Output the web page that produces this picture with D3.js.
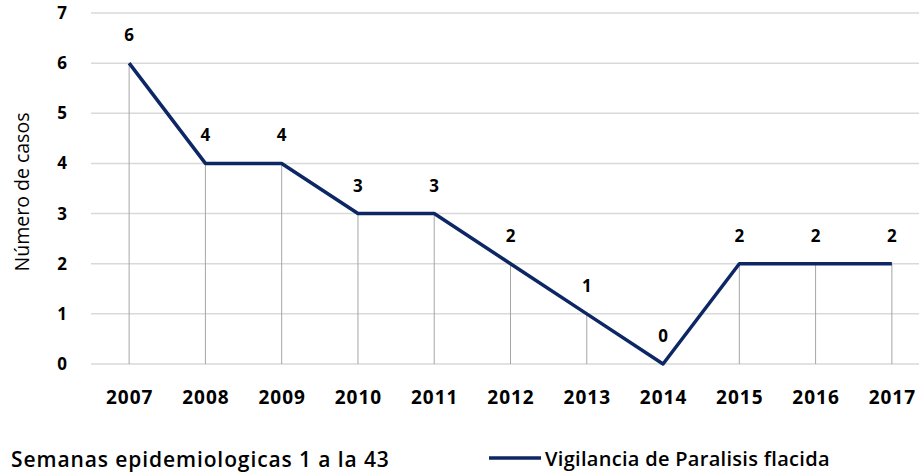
<!DOCTYPE html>
<html>
<head>
<meta charset="utf-8">
<script src="https://cdn.jsdelivr.net/npm/d3@7"></script>
<style>
  body { margin: 0; background: #fff; }
  text { font-family: "Open Sans", sans-serif; fill: #000; }
</style>
</head>
<body>
<div id="chart"></div>
<script>
// data
var years = ["2007", "2008", "2009", "2010", "2011", "2012", "2013", "2014", "2015", "2016", "2017"];
var casos = [6, 4, 4, 3, 3, 2, 1, 0, 2, 2, 2];
var yTicks = [0, 1, 2, 3, 4, 5, 6, 7];
var seriesName = "Vigilancia de Paralisis flacida";
var footNote = "Semanas epidemiologicas 1 a la 43";

var width = 919, height = 473;
var plot = {left: 91, right: 930, top: 13, bottom: 364};

var svg = d3.select("#chart")
    .append("svg")
    .attr("width", width)
    .attr("height", height);

var x = d3.scalePoint()
    .domain(years)
    .range([plot.left, plot.right])
    .padding(0.5);

var y = d3.scaleLinear()
    .domain([0, 7])
    .range([plot.bottom, plot.top]);

// horizontal gridlines
svg.append("g")
    .selectAll("line")
    .data(yTicks)
    .enter()
    .append("line")
    .attr("x1", plot.left)
    .attr("x2", width)
    .attr("y1", d => y(d))
    .attr("y2", d => y(d))
    .attr("stroke", "#d9d9d9")
    .attr("stroke-width", 1.5);

// y axis labels
var yAxis = svg.append("g")
    .attr("transform", "translate(" + plot.left + ",0)")
    .call(d3.axisLeft(y).tickValues(yTicks).tickFormat(d3.format("d")).tickSize(0).tickPadding(24));
yAxis.select(".domain").remove();
yAxis.selectAll("text")
    .style("font-size", "17px")
    .style("font-weight", "bold");

// x axis labels
var xAxis = svg.append("g")
    .attr("transform", "translate(0," + plot.bottom + ")")
    .call(d3.axisBottom(x).tickSize(0).tickPadding(27));
xAxis.select(".domain").remove();
xAxis.selectAll("text")
    .style("font-size", "19px")
    .style("font-weight", "bold")
    .style("letter-spacing", "1px");

var points = years.map(function(yr, i) { return {year: yr, value: casos[i]}; });

// drop lines
svg.append("g")
    .selectAll("line")
    .data(points)
    .enter()
    .append("line")
    .attr("x1", d => x(d.year))
    .attr("x2", d => x(d.year))
    .attr("y1", d => y(d.value))
    .attr("y2", y(0))
    .attr("stroke", "#a6a6a6")
    .attr("stroke-width", 1);

// the series line
var line = d3.line()
    .x(d => x(d.year))
    .y(d => y(d.value));

svg.append("path")
    .datum(points)
    .attr("d", line)
    .attr("fill", "none")
    .attr("stroke", "#0d2765")
    .attr("stroke-width", 3.5)
    .attr("stroke-linejoin", "round");

// data labels
svg.append("g")
    .selectAll("text")
    .data(points)
    .enter()
    .append("text")
    .attr("x", d => x(d.year))
    .attr("y", d => y(d.value) - 22)
    .attr("text-anchor", "middle")
    .style("font-size", "17px")
    .style("font-weight", "bold")
    .text(d => d.value);

// y axis title
svg.append("text")
    .attr("transform", "translate(29,192) rotate(-90)")
    .attr("text-anchor", "middle")
    .style("font-size", "19.5px")
    .text("Número de casos");

// footnote
svg.append("text")
    .attr("x", 11)
    .attr("y", 467)
    .style("font-size", "21px")
    .style("font-weight", 600)
    .style("letter-spacing", "0.9px")
    .text(footNote);

// legend
svg.append("line")
    .attr("x1", 489)
    .attr("x2", 541)
    .attr("y1", 458)
    .attr("y2", 458)
    .attr("stroke", "#0d2765")
    .attr("stroke-width", 3.5);

svg.append("text")
    .attr("x", 545)
    .attr("y", 466)
    .style("font-size", "20px")
    .style("font-weight", 600)
    .style("letter-spacing", "0.3px")
    .text(seriesName);
</script>
</body>
</html>
